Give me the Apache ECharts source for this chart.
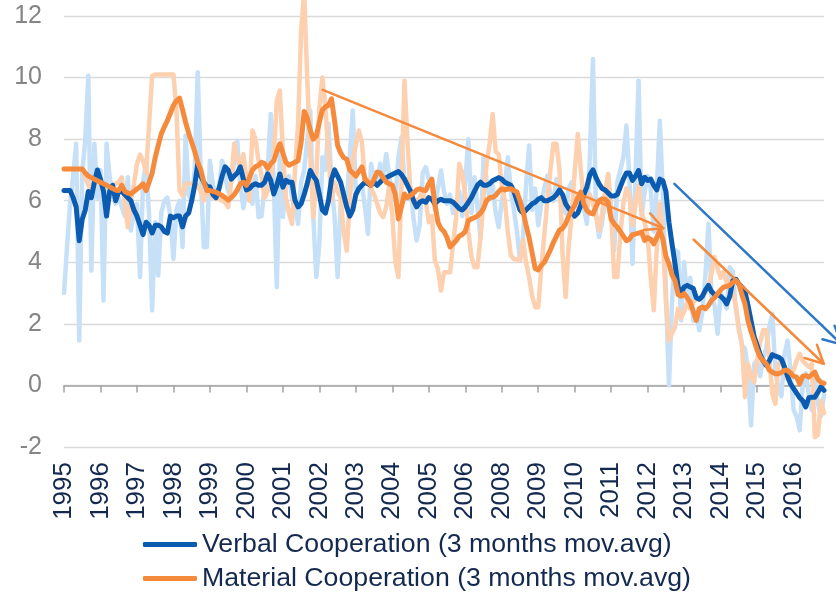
<!DOCTYPE html>
<html>
<head>
<meta charset="utf-8">
<script src="https://cdn.jsdelivr.net/npm/echarts/dist/echarts.min.js"></script>
<style>
html,body{margin:0;padding:0;background:#fff;}
#chart{width:836px;height:592px;}
</style>
</head>
<body>
<div id="chart"></div>
<script>
// Tick labels shown every 12 months (as in the original axis)
const tickLabels = ['1995','1996','1997','1998','1999','2000','2001','2002','2003','2004','2005','2006',
  '2008','2009','2010','2011','2012','2013','2014','2015','2016'];

// Monthly values (251 months)
const verbalRaw = [
  3.0,4.5,5.9,6.8,7.85,1.46,6.9,8.0,10.06,3.73,7.85,6.1,
  7.0,2.76,7.85,6.8,6.2,5.9,6.1,5.8,5.5,6.76,5.03,5.6,
  5.9,3.52,6.6,7.25,5.5,2.44,5.3,3.57,5.6,6.0,6.1,5.5,
  4.11,5.7,6.0,4.49,8.12,6.2,6.0,7.0,10.17,6.8,4.49,4.5,
  7.3,6.5,6.1,6.4,7.3,6.8,6.3,6.6,7.3,7.95,6.5,5.76,
  6.3,6.8,5.9,6.8,5.47,5.5,6.5,7.0,8.82,6.6,3.19,7.52,
  5.47,6.6,6.8,6.1,5.8,5.25,6.6,7.0,7.95,8.93,5.5,3.52,
  4.6,7.41,7.0,8.5,6.5,5.5,3.52,5.9,6.2,6.0,7.4,8.93,
  6.2,6.4,6.5,5.8,4.92,7.2,6.7,6.5,7.2,6.8,7.52,6.8,
  6.2,6.0,7.41,8.06,6.6,6.7,6.4,5.4,4.71,5.2,6.9,7.09,
  6.7,6.4,5.7,6.4,6.98,6.3,5.9,6.2,5.6,5.9,6.3,5.5,
  6.6,8.0,5.6,6.76,5.8,4.82,7.41,6.7,6.1,6.5,5.6,5.14,
  6.0,6.5,7.41,6.3,5.7,5.0,4.06,4.8,6.5,7.79,5.7,6.4,
  5.2,5.9,6.4,6.82,6.2,6.0,6.7,6.1,5.8,5.6,6.4,6.6,
  5.8,6.0,6.3,5.8,5.25,7.5,10.6,5.6,4.82,5.3,6.0,6.87,
  5.5,4.38,6.6,7.0,7.4,8.44,6.7,3.95,6.8,9.9,5.5,6.3,
  6.8,6.4,5.0,6.4,8.6,6.2,3.0,0.0,2.7,4.4,4.33,2.11,
  4.0,2.8,3.5,2.1,2.4,1.79,2.4,3.6,5.25,2.9,2.6,1.68,
  3.0,2.8,2.5,3.84,3.7,2.5,1.9,1.3,1.2,0.5,-1.3,0.7,
  0.8,0.3,0.9,1.2,1.9,2.33,0.5,-0.15,-0.35,1.0,1.46,0.5,
  -0.8,-1.0,-1.46,0.05,0.4,-0.3,-0.8,0.4,-0.6,-1.0,-0.3
];
const materialRaw = [
  7.03,7.03,7.03,7.03,7.03,7.03,7.03,6.76,6.5,6.33,6.66,6.6,
  6.55,6.5,6.5,6.45,6.5,6.55,6.6,6.76,5.9,5.14,6.0,6.55,
  7.2,7.5,7.3,6.9,8.5,10.06,10.1,10.1,10.1,10.1,10.1,10.1,
  10.1,8.93,6.33,6.17,6.55,6.55,6.55,6.55,6.5,6.3,6.0,6.4,
  6.2,6.1,6.1,6.05,6.0,5.95,5.79,6.6,7.85,7.4,7.0,7.52,
  6.7,6.0,8.28,8.0,7.3,6.8,6.1,6.3,6.7,7.5,9.25,9.58,
  7.6,6.1,5.6,5.25,7.0,8.5,11.5,12.8,10.0,7.5,5.47,6.8,
  9.0,10.0,9.0,7.52,6.0,6.6,6.3,6.1,5.0,4.38,6.0,7.3,
  7.8,8.28,7.9,6.6,6.7,6.4,6.2,5.9,5.6,5.47,5.8,6.5,
  5.5,4.0,3.52,6.5,9.9,7.9,6.2,5.9,6.0,6.1,6.3,6.0,
  5.3,5.5,4.06,3.79,3.08,3.68,3.68,3.68,4.6,5.47,7.2,6.9,
  6.2,5.0,4.2,3.84,3.84,4.8,6.0,7.2,7.85,8.82,7.6,7.5,
  6.5,6.0,5.0,4.22,4.1,4.1,4.06,4.71,4.0,3.5,2.9,2.54,
  2.54,3.8,4.9,6.0,7.0,7.85,7.85,7.0,4.27,2.87,4.5,5.5,
  6.98,8.17,7.0,6.0,5.8,6.2,5.9,5.5,5.03,5.6,6.3,6.87,
  5.6,3.52,3.52,4.9,5.9,6.4,6.2,5.2,5.9,6.5,5.6,5.3,
  4.8,3.5,2.44,4.5,5.9,4.8,2.76,1.46,1.7,1.89,2.5,2.2,
  2.4,2.7,2.5,2.7,2.8,2.8,2.9,3.0,3.2,3.63,4.17,3.8,
  3.5,3.7,3.3,3.4,3.0,2.6,1.8,1.35,-0.38,0.7,0.3,0.1,
  0.8,1.4,1.8,1.79,0.9,-0.27,-0.6,0.7,0.8,0.5,0.2,0.4,
  0.5,0.8,1.03,0.8,0.7,0.6,0.7,-1.68,-1.6,-0.5,-0.9
];
const verbalMA = [
  6.33,6.33,6.33,6.1,5.8,4.7,5.4,5.7,6.3,6.1,6.6,7.0,
  6.7,6.3,5.5,6.3,6.5,6.0,6.3,6.3,6.2,6.1,6.0,5.7,
  5.5,5.2,4.9,5.3,5.2,4.95,5.2,5.2,5.15,5.0,4.95,5.5,
  5.45,5.5,5.5,5.15,5.5,5.6,6.0,6.5,7.2,6.8,6.6,6.45,
  6.45,6.2,6.1,6.4,6.8,7.1,7.0,6.7,6.8,6.9,7.1,6.7,
  6.35,6.4,6.5,6.55,6.5,6.5,6.6,6.87,6.66,6.22,6.5,6.87,
  6.44,6.66,6.6,6.6,6.0,5.8,5.9,6.2,6.55,6.98,6.8,6.66,
  6.2,5.7,5.6,6.0,6.7,7.0,6.8,6.6,6.2,5.8,5.5,5.7,
  6.2,6.4,6.5,6.6,6.55,6.5,6.6,6.5,6.6,6.7,6.75,6.8,
  6.85,6.9,6.95,6.85,6.7,6.5,6.3,6.0,5.8,5.95,6.0,5.95,
  6.1,6.05,5.9,6.0,6.05,6.0,6.0,6.0,5.95,5.85,5.75,5.7,
  5.8,5.95,6.1,6.3,6.5,6.6,6.5,6.5,6.55,6.65,6.7,6.75,
  6.7,6.6,6.55,6.5,6.3,6.0,5.7,5.6,5.7,5.8,5.9,5.95,
  6.05,6.1,6.0,6.0,6.05,6.1,6.2,6.35,6.2,5.9,5.75,5.65,
  5.5,5.6,5.85,6.2,6.45,6.85,7.0,6.75,6.55,6.4,6.35,6.25,
  6.15,6.15,6.2,6.45,6.7,6.9,6.9,6.66,6.8,6.98,6.55,6.76,
  6.66,6.7,6.5,6.35,6.7,6.65,6.3,5.3,4.6,3.95,3.2,3.0,
  3.2,3.25,3.2,3.15,2.85,2.8,2.9,3.1,3.25,3.05,2.95,2.95,
  2.9,2.8,2.65,2.9,3.4,3.45,3.3,3.2,3.05,2.6,2.1,1.6,
  1.3,1.0,0.8,0.65,0.8,1.0,0.95,0.92,0.85,0.6,0.3,0.05,
  -0.1,-0.25,-0.4,-0.5,-0.7,-0.4,-0.38,-0.38,-0.22,-0.05,-0.16
];
const materialMA = [
  7.03,7.03,7.03,7.03,7.03,7.03,7.03,6.9,6.8,6.75,6.7,6.65,
  6.6,6.55,6.5,6.45,6.4,6.35,6.33,6.5,6.3,6.25,6.22,6.3,
  6.38,6.45,6.55,6.33,6.6,6.9,7.4,7.8,8.17,8.4,8.6,8.85,
  9.1,9.25,9.33,8.95,8.55,8.2,7.9,7.6,7.25,7.0,6.6,6.33,
  6.33,6.3,6.28,6.22,6.17,6.1,6.02,6.1,6.2,6.35,6.55,6.6,
  6.5,6.75,7.0,7.1,7.15,7.25,7.2,7.05,7.2,7.3,7.6,7.85,
  7.55,7.25,7.15,7.2,7.25,7.3,7.9,8.9,8.7,8.3,8.0,8.1,
  8.55,8.95,9.05,9.1,9.31,8.6,7.8,7.55,7.4,7.35,7.0,6.9,
  6.8,6.95,7.1,6.7,6.6,6.5,6.7,6.93,6.9,6.75,6.6,6.55,
  6.5,6.2,5.41,5.8,6.22,6.1,6.17,6.25,6.35,6.39,6.35,6.33,
  6.55,6.7,5.9,5.3,5.1,5.0,4.8,4.5,4.6,4.7,4.85,4.9,
  5.0,5.35,5.41,5.45,5.5,5.6,5.75,6.0,6.1,6.11,6.17,6.3,
  6.39,6.35,6.38,6.39,6.33,6.28,6.0,5.65,5.2,4.8,4.3,3.8,
  3.75,3.9,4.0,4.2,4.4,4.65,4.85,5.05,5.1,5.25,5.5,5.68,
  5.85,6.1,6.28,5.9,5.68,5.6,5.57,5.8,6.0,6.06,6.05,5.95,
  5.4,5.25,5.14,5.0,4.85,4.7,4.75,4.9,4.92,4.95,4.98,4.71,
  4.8,4.75,4.6,4.8,5.03,4.75,4.2,3.95,3.6,3.4,2.95,2.9,
  2.98,2.85,2.7,2.4,2.11,2.5,2.55,2.49,2.6,2.76,2.85,2.98,
  3.1,3.19,3.22,3.25,3.35,3.41,3.3,2.95,2.65,2.1,1.75,1.46,
  1.15,0.92,0.8,0.7,0.5,0.43,0.38,0.38,0.42,0.49,0.49,0.4,
  0.3,0.27,0.05,0.3,0.32,0.27,0.35,0.43,0.2,0.1,0.07
];

// Hand-drawn trend arrows, in data units: [month1, value1, month2, value2, colourIndex]
const trendSegments = [
  [85.1, 9.60, 197.1, 5.107, 0], [192.8, 5.59, 197.1, 5.107, 0], [190.6, 5.05, 197.1, 5.107, 0],
  [207.1, 4.74, 249.9, 0.705, 0], [247.7, 1.32, 249.9, 0.705, 0], [243.6, 0.89, 249.9, 0.705, 0],
  [200.8, 6.55, 255.8, 1.33, 1], [253.5, 1.94, 255.8, 1.33, 1], [249.5, 1.50, 255.8, 1.33, 1]
];

const months = verbalMA.map((_, i) => 'M' + i);

const C = {
  lightBlue: '#c6e0f8', lightOrange: '#fdd0b0',
  blue: '#0b5cb0', orange: '#f68a3c', arrowBlue: '#2e78c8',
  navy: '#14294f', grey: '#858585', grid: '#dadada', axis: '#a3a3a3'
};
const FONT = '"Liberation Sans", Arial, sans-serif';
const nameV = 'Verbal Cooperation (3 months mov.avg)';
const nameM = 'Material Cooperation (3 months mov.avg)';

const chart = echarts.init(document.getElementById('chart'), null, {renderer: 'canvas'});
chart.setOption({
  animation: false,
  backgroundColor: '#fff',
  grid: {left: 64, right: 12, top: 16, bottom: 145, containLabel: false},
  legend: {
    data: [nameV, nameM], orient: 'vertical', left: 143, top: 531, padding: 0,
    height: 70,
    itemWidth: 54, itemHeight: 5, itemGap: 7, icon: 'roundRect',
    textStyle: {fontSize: 26.7, color: C.navy, fontFamily: FONT, lineHeight: 26}
  },
  xAxis: [
    {
      type: 'category', data: months, boundaryGap: false, position: 'bottom',
      axisLine: {show: false, onZero: false}, axisTick: {show: false},
      axisLabel: {
        interval: 11, rotate: 90, margin: 15, fontSize: 26, color: C.navy, fontFamily: FONT,
        formatter: (v, idx) => tickLabels[Math.round(idx / 12)] || ''
      },
      splitLine: {show: false}
    },
    {
      type: 'category', data: months, boundaryGap: false, position: 'bottom',
      axisLine: {show: true, onZero: true, lineStyle: {color: C.axis, width: 1.5}},
      axisTick: {show: true, interval: 11, length: 7, lineStyle: {color: C.axis, width: 1.5}},
      axisLabel: {show: false}, splitLine: {show: false}
    },
    {type: 'value', min: 0, max: months.length - 1, show: false, position: 'top'}
  ],
  yAxis: {
    type: 'value', min: -2, max: 12, interval: 2,
    axisLine: {show: false, onZero: false}, axisTick: {show: false},
    axisLabel: {fontSize: 25, color: C.grey, fontFamily: FONT, margin: 22},
    splitLine: {lineStyle: {color: C.grid, width: 1.3}}
  },
  series: [
    {name: 'Verbal Cooperation', type: 'line', data: verbalRaw, showSymbol: false, symbol: 'none', z: 2,
      lineStyle: {color: C.lightBlue, width: 4.5, join: 'round', cap: 'round'}, itemStyle: {color: C.lightBlue}, clip: false},
    {name: 'Material Cooperation', type: 'line', data: materialRaw, showSymbol: false, symbol: 'none', z: 3,
      lineStyle: {color: C.lightOrange, width: 4.5, join: 'round', cap: 'round'}, itemStyle: {color: C.lightOrange}, clip: false},
    {name: nameV, type: 'line', data: verbalMA, showSymbol: false, symbol: 'none', z: 4,
      lineStyle: {color: C.blue, width: 5, join: 'round', cap: 'round'}, itemStyle: {color: C.blue}},
    {name: nameM, type: 'line', data: materialMA, showSymbol: false, symbol: 'none', z: 5,
      lineStyle: {color: C.orange, width: 5, join: 'round', cap: 'round'}, itemStyle: {color: C.orange}},
    {
      name: 'trend', type: 'custom', xAxisIndex: 2, yAxisIndex: 0, clip: false, silent: true, z: 10,
      data: trendSegments,
      dimensions: ['x1', 'y1', 'x2', 'y2', 'c'],
      encode: {x: [0, 2], y: [1, 3]},
      renderItem: (params, api) => {
        const p1 = api.coord([api.value(0), api.value(1)]);
        const p2 = api.coord([api.value(2), api.value(3)]);
        return {
          type: 'line', z2: 100,
          shape: {x1: p1[0], y1: p1[1], x2: p2[0], y2: p2[1]},
          style: {stroke: api.value(4) ? C.arrowBlue : C.orange, lineWidth: 2.5, lineCap: 'round'}
        };
      }
    }
  ]
});
</script>
</body>
</html>
